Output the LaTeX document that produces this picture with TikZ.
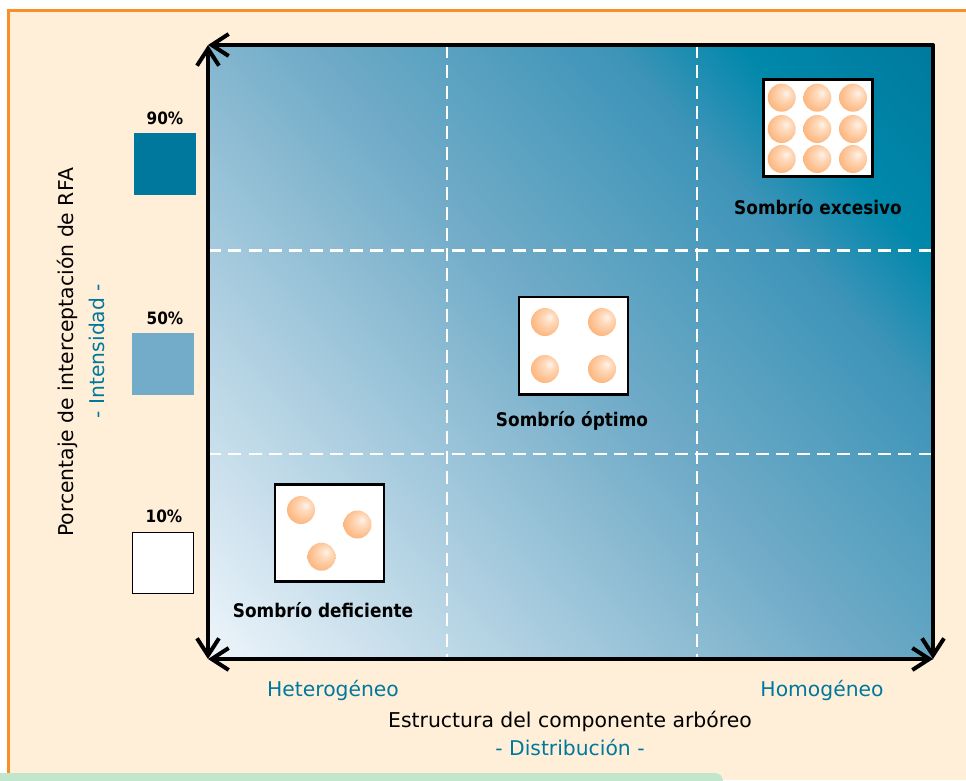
\documentclass[tikz,border=0pt]{standalone}
\usepackage{fontspec}
\setmainfont{DejaVu Sans}[BoldFeatures={FakeStretch=0.9}]
\usetikzlibrary{arrows.meta}
\definecolor{cream}{HTML}{FFEFD9}
\definecolor{frameor}{HTML}{FA8E2B}
\definecolor{teal}{HTML}{00789E}
\definecolor{midblue}{HTML}{72ACC8}
\definecolor{mint}{HTML}{C2E6CC}
\definecolor{ga}{HTML}{EEF5FB}
\definecolor{gb}{HTML}{72ACC8}
\definecolor{gc}{HTML}{3D94B8}
\definecolor{gd}{HTML}{0088AB}
\definecolor{ge}{HTML}{007A9E}
\definecolor{oa}{HTML}{FFF3E8}
\definecolor{ob}{HTML}{FFDCC0}
\definecolor{oc}{HTML}{FDBC88}
\definecolor{od}{HTML}{FBAC6A}
\pgfdeclareradialshading{orb}{\pgfpoint{9bp}{9bp}}{
 color(0bp)=(oa);
 color(9bp)=(ob);
 color(26bp)=(oc);
 color(36bp)=(od);
 color(50bp)=(od)}
\pgfdeclarehorizontalshading{plotfill}{100bp}{
 color(0bp)=(ga);
 color(14.7bp)=(ga);
 color(50bp)=(gb);
 color(67.6bp)=(gc);
 color(74.7bp)=(gd);
 color(85.3bp)=(ge);
 color(100bp)=(ge)}
\tikzset{
 x=1pt,y=-1pt,
 axisline/.style={line width=4pt,line join=round,{Straight Barb[length=17pt,width=22pt,line width=4pt]}-{Straight Barb[length=17pt,width=22pt,line width=4pt]}},
 gridline/.style={white,line width=2.2pt,dash pattern=on 13pt off 7.3pt},
 inset/.style={draw=black,line width=2.6pt,fill=white,minimum width=109pt,minimum height=97.4pt,inner sep=0pt,outer sep=0pt,anchor=north west,xshift=1.3pt,yshift=-1.3pt},
 swatch/.style={minimum size=62pt,inner sep=0pt,outer sep=0pt,anchor=north west},
 orbnode/.style={circle,minimum size=28pt,inner sep=0pt,shading=orb},
 pct/.style={font=\fontsize{17}{20}\selectfont\bfseries,text=black},
 caption/.style={font=\fontsize{18.8}{22}\selectfont\bfseries,text=black},
 plain/.style={font=\fontsize{20.4}{24}\selectfont,text=black},
 tealtxt/.style={font=\fontsize{20.3}{24}\selectfont,text=teal},
}
\begin{document}
\begin{tikzpicture}
\useasboundingbox (0,0) rectangle (966,780);
\fill[white] (0,0) rectangle (966,780);
\fill[cream] (8,10) rectangle (966,780);
\draw[frameor,line width=3pt] (8,780) -- (8,10) -- (966,10);
\fill[mint,rounded corners=8pt] (-20,773) rectangle (723,800);
\coordinate (tl) at (208,45);
\coordinate (tr) at (933,45);
\coordinate (br) at (933,659);
\coordinate (bl) at (208,659);
\shade[shading=plotfill,shading angle=42] (tl) rectangle (br);
\coordinate (g1t) at (447,45); \coordinate (g1b) at (447,659);
\coordinate (g2t) at (697,45); \coordinate (g2b) at (697,659);
\coordinate (g3l) at (208,250.5); \coordinate (g3r) at (933,250.5);
\coordinate (g4l) at (208,454); \coordinate (g4r) at (933,454);
\draw[gridline] (g1t) -- (g1b);
\draw[gridline] (g2t) -- (g2b);
\draw[gridline] (g3l) -- (g3r);
\draw[gridline] (g4l) -- (g4r);
\draw[axisline] (tl) -- (tr) -- (br);
\draw[axisline] (tl) -- (bl);
\draw[axisline] (bl) -- (br);
\node[inset] (boxa) at (273.5,483) {};
\node[inset] (boxb) at (517.5,295.5) {};
\node[inset] (boxc) at (762,78) {};
\foreach \n/\cx/\cy in {a1/301/510,a2/357.5/524.5,a3/321.5/556.7,
 b1/545/322,b2/602/322,b3/545/369,b4/602/369,
 c1/781.7/97.7,c2/817.3/97.7,c3/853/97.7,
 c4/781.7/129,c5/817.3/129,c6/853/129,
 c7/781.7/159,c8/817.3/159,c9/853/159}
 \node[orbnode] (\n) at (\cx,\cy) {};
\node[caption] (capa) at (323,610) {Sombrío deficiente};
\node[caption] (capb) at (572,421) {Sombrío óptimo};
\node[caption] (capc) at (818,207) {Sombrío excesivo};
\node[swatch,fill=teal] (s90) at (134,133) {};
\node[swatch,fill=midblue] (s50) at (132,333) {};
\node[swatch,fill=white,draw=black,line width=1pt,minimum size=61pt] (s10) at (132,532) {};
\node[pct] (p90) at (165,118) {90\%};
\node[pct] (p50) at (165,318) {50\%};
\node[pct] (p10) at (164,516) {10\%};
\node[plain,rotate=90] (ylab) at (67,352.5) {Porcentaje de interceptación de RFA};
\node[tealtxt,rotate=90] (ysub) at (97,351) {- Intensidad -};
\node[tealtxt] (het) at (333,690) {Heterogéneo};
\node[tealtxt] (hom) at (822,690) {Homogéneo};
\node[plain] (xlab) at (570,721.5) {Estructura del componente arbóreo};
\node[tealtxt] (xsub) at (570,748) {- Distribución -};
\end{tikzpicture}
\end{document}
